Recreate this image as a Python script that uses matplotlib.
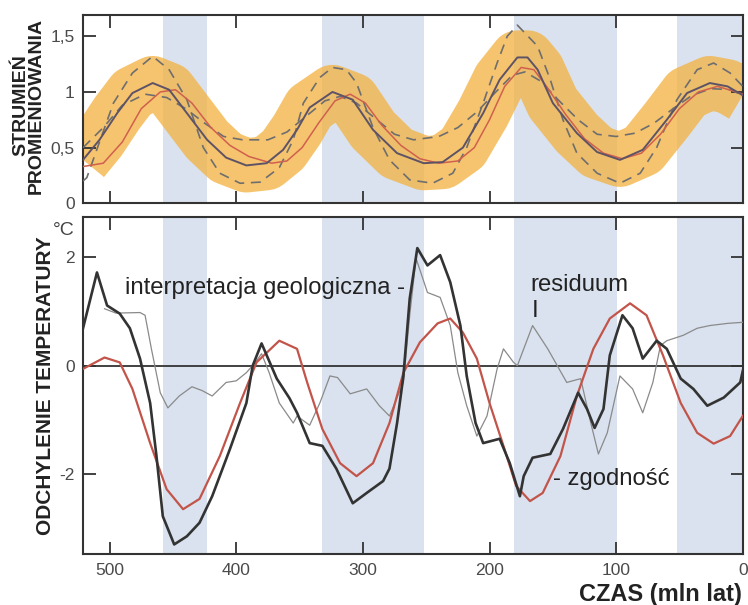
import matplotlib
matplotlib.use("Agg")
import matplotlib.pyplot as plt

plt.rcParams['font.family'] = ['Liberation Sans', 'DejaVu Sans']

## time axis is in mln lat, reversed (520 -> 0)
XMAX, XMIN = 521, 0
cold_periods = [(458, 423), (332, 252), (181, 99), (52, 0)]

## --- top panel: strumien promieniowania ---
t_mid = [521, 508, 494, 482, 466, 453, 439, 423, 408, 392, 376, 363, 352, 342, 324, 308,
         292, 273, 252, 237, 221, 205, 192, 178, 170, 162, 150, 131, 115, 97, 79, 60, 44,
         26, 12, 0]
flux_mid = [0.39, 0.57, 0.81, 0.99, 1.08, 1.02, 0.81, 0.57, 0.41, 0.34, 0.36, 0.48, 0.66,
            0.86, 1.0, 0.93, 0.66, 0.45, 0.36, 0.37, 0.5, 0.81, 1.11, 1.31, 1.31, 1.2, 0.9,
            0.63, 0.46, 0.39, 0.48, 0.75, 0.99, 1.08, 1.05, 0.97]

t_hi = [521, 518, 508, 497, 482, 466, 453, 439, 426, 413, 397, 381, 366, 355, 347, 334, 324,
        313, 305, 292, 279, 263, 245, 229, 218, 205, 194, 186, 178, 162, 152, 142, 131, 115,
        97, 81, 68, 52, 36, 23, 10, 0]
flux_hi = [0.2, 0.23, 0.55, 0.9, 1.17, 1.32, 1.2, 0.93, 0.5, 0.27, 0.18, 0.19, 0.32, 0.57,
           0.9, 1.13, 1.22, 1.2, 1.08, 0.68, 0.39, 0.21, 0.18, 0.27, 0.5, 0.9, 1.26, 1.5,
           1.6, 1.41, 1.11, 0.75, 0.45, 0.27, 0.18, 0.27, 0.5, 0.93, 1.2, 1.26, 1.17, 1.05]

t_lo = [521, 505, 490, 472, 455, 440, 425, 410, 395, 375, 360, 345, 330, 318, 305, 290, 275,
        260, 240, 225, 210, 195, 182, 172, 160, 145, 130, 115, 100, 85, 70, 55, 40, 25, 10, 0]
flux_lo = [0.5, 0.68, 0.88, 0.98, 0.95, 0.85, 0.72, 0.6, 0.57, 0.57, 0.64, 0.78, 0.92, 0.96,
           0.9, 0.76, 0.62, 0.57, 0.6, 0.68, 0.82, 1.0, 1.15, 1.18, 1.1, 0.92, 0.75, 0.62,
           0.6, 0.63, 0.72, 0.85, 0.97, 1.03, 1.02, 0.97]

t_red = [521, 505, 490, 475, 460, 448, 435, 420, 405, 390, 372, 360, 348, 335, 322, 310, 298,
         285, 270, 255, 240, 225, 212, 200, 188, 175, 165, 155, 140, 125, 110, 95, 80, 65,
         50, 35, 20, 5, 0]
flux_red = [0.33, 0.36, 0.55, 0.85, 1.0, 1.02, 0.9, 0.68, 0.52, 0.42, 0.36, 0.38, 0.5, 0.72,
            0.92, 0.98, 0.9, 0.7, 0.52, 0.4, 0.36, 0.38, 0.5, 0.75, 1.05, 1.22, 1.2, 1.05,
            0.8, 0.58, 0.45, 0.4, 0.45, 0.62, 0.85, 1.0, 1.05, 1.0, 0.98]

## --- bottom panel: odchylenie temperatury ---
t_geo = [521, 510, 502, 492, 484, 476, 468, 463, 458, 449, 439, 429, 419, 405, 392, 387, 380,
         368, 358, 352, 342, 332, 321, 308, 297, 284, 279, 273, 268, 263, 257, 249, 239, 231,
         223, 218, 211, 205, 192, 184, 176, 173, 166, 152, 142, 130, 123, 117, 110, 105, 95,
         87, 79, 68, 60, 49, 39, 28, 15, 2, 0]
temp_geo = [0.69, 1.72, 1.11, 0.96, 0.69, 0.13, -0.69, -1.67, -2.78, -3.3, -3.15, -2.9,
            -2.41, -1.54, -0.69, 0.0, 0.41, -0.24, -0.6, -0.87, -1.43, -1.48, -1.9, -2.54,
            -2.35, -2.13, -1.9, -1.06, -0.19, 1.24, 2.17, 1.85, 2.04, 1.54, 0.74, -0.19,
            -1.06, -1.43, -1.35, -1.8, -2.41, -2.04, -1.7, -1.63, -1.17, -0.5, -0.8, -1.15,
            -0.8, 0.19, 0.93, 0.69, 0.13, 0.46, 0.31, -0.24, -0.43, -0.74, -0.59, -0.31, -0.1]

t_fit = [521, 504, 492, 482, 468, 455, 442, 429, 413, 397, 384, 366, 352, 344, 332, 318, 305,
         292, 279, 268, 255, 241, 231, 221, 210, 200, 189, 179, 168, 158, 144, 131, 118, 105,
         89, 76, 63, 49, 36, 23, 10, 0]
temp_fit = [-0.06, 0.15, 0.06, -0.43, -1.43, -2.28, -2.65, -2.46, -1.67, -0.69, 0.06, 0.46,
            0.31, -0.31, -1.17, -1.8, -2.04, -1.8, -1.06, -0.13, 0.43, 0.78, 0.87, 0.61, 0.13,
            -0.69, -1.48, -2.22, -2.5, -2.35, -1.67, -0.56, 0.31, 0.87, 1.15, 0.93, 0.19,
            -0.69, -1.24, -1.44, -1.3, -0.93]

t_res = [504, 495, 476, 472, 467, 460, 454, 445, 435, 427, 419, 408, 400, 392, 385, 380, 374,
         366, 355, 352, 342, 334, 326, 320, 310, 297, 287, 279, 268, 263, 258, 249, 239, 231,
         225, 218, 210, 202, 194, 189, 181, 178, 166, 154, 139, 128, 120, 114, 107, 97, 87,
         79, 71, 65, 60, 47, 36, 26, 12, 0]
temp_res = [1.05, 0.97, 0.98, 0.93, 0.31, -0.5, -0.78, -0.56, -0.39, -0.46, -0.56, -0.31,
            -0.28, -0.13, 0.06, 0.22, -0.13, -0.69, -1.06, -0.93, -1.1, -0.69, -0.19, -0.22,
            -0.52, -0.43, -0.74, -0.93, -0.31, 0.93, 1.98, 1.35, 1.26, 0.74, -0.13, -0.74,
            -1.3, -0.93, -0.06, 0.31, 0.06, 0.0, 0.74, 0.31, -0.31, -0.24, -1.06, -1.63,
            -1.24, -0.19, -0.43, -0.87, -0.31, 0.37, 0.46, 0.56, 0.69, 0.74, 0.78, 0.8]

BLUE = '#d9e2ee'
TXT = '#222222'

fig = plt.figure(figsize=(7.48, 6.05), dpi=100)
ax1 = fig.add_axes([0.111, 0.664, 0.882, 0.311])
ax2 = fig.add_axes([0.111, 0.084, 0.882, 0.557])

for ax in (ax1, ax2):
    for a, b in cold_periods:
        ax.axvspan(a, b, color=BLUE, lw=0, zorder=0)
    ax.set_xlim(XMAX, XMIN)
    ax.set_xticks([500, 400, 300, 200, 100, 0])
    ax.tick_params(direction='in', length=9, width=1.3, color='#333333',
                   top=True, right=True, labelsize=12.5, labelcolor='#4a4a4a', pad=6)
    for s in ax.spines.values():
        s.set_color('#333333')
        s.set_linewidth(1.5)

# top
ax1.plot(t_mid, flux_mid, color='#f3b13f', lw=39, alpha=0.75, solid_joinstyle='round',
         solid_capstyle='butt', zorder=1)
ax1.plot(t_hi, flux_hi, color='#6e6e6e', lw=1.2, ls=(0, (6, 4)), zorder=3)
ax1.plot(t_lo, flux_lo, color='#6e6e6e', lw=1.2, ls=(0, (6, 4)), zorder=3)
ax1.plot(t_red, flux_red, color='#d0604e', lw=1.1, zorder=3)
ax1.plot(t_mid, flux_mid, color='#5e5366', lw=1.4, zorder=4)
ax1.set_ylim(0, 1.69)
ax1.set_yticks([0, 0.5, 1, 1.5])
ax1.set_yticklabels(['0', '0,5', '1', '1,5'])
ax1.tick_params(axis='x', labelbottom=False)
ax1.set_ylabel('STRUMIEŃ\nPROMIENIOWANIA', fontsize=14, fontweight='bold',
               color=TXT, linespacing=0.9)
ax1.yaxis.set_label_coords(-0.058, 0.52)

# bottom
ax2.axhline(0, color='#333333', lw=1.3, zorder=2)
ax2.plot(t_res, temp_res, color='#8a8a8a', lw=0.9, zorder=3)
ax2.plot(t_fit, temp_fit, color='#c2544a', lw=1.6, zorder=4)
ax2.plot(t_geo, temp_geo, color='#333333', lw=1.9, zorder=5)
ax2.set_ylim(-3.48, 2.74)
ax2.set_yticks([-2, 0, 2])
ax2.set_yticklabels(['-2', '0', '2'])
ax2.set_ylabel('ODCHYLENIE TEMPERATURY', fontsize=15, fontweight='bold', color=TXT)
ax2.yaxis.set_label_coords(-0.042, 0.5)
ax2.text(-0.012, 0.96, '°C', transform=ax2.transAxes, ha='right', va='center',
         fontsize=14, color='#444444')
ax2.set_xlabel('CZAS (mln lat)', fontsize=17, fontweight='bold', color=TXT)
ax2.xaxis.set_label_coords(0.998, -0.085)
ax2.xaxis.label.set_horizontalalignment('right')

ax2.text(488, 1.43, 'interpretacja geologiczna -', fontsize=17.2, color=TXT,
         va='center', ha='left', zorder=6)
ax2.text(168, 1.48, 'residuum', fontsize=17.2, color=TXT, va='center', ha='left', zorder=6)
ax2.text(167, 1.0, 'I', fontsize=17.2, color=TXT, va='center', ha='left', zorder=6)
ax2.text(150, -2.09, '- zgodność', fontsize=17.2, color=TXT, va='center', ha='left', zorder=6)

fig.savefig('out.png', dpi=100)
